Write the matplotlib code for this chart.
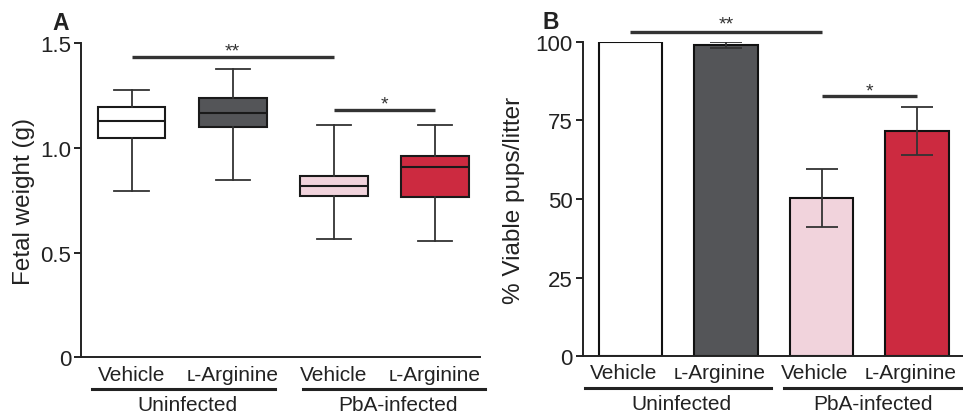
import matplotlib
matplotlib.use("Agg")
import matplotlib.pyplot as plt
from matplotlib.lines import Line2D

plt.rcParams['font.family'] = ['Liberation Sans', 'DejaVu Sans']

# ---------------- data ----------------
treatments = ["Vehicle", "ʟ-Arginine", "Vehicle", "ʟ-Arginine"]
groups = ["Uninfected", "PbA-infected"]
colors = ["#ffffff", "#545558", "#f1d3dc", "#cc2a40"]

# Panel A: fetal weight (g) box plot summaries
whis_lo = [0.796, 0.846, 0.565, 0.554]
q1 = [1.048, 1.100, 0.771, 0.763]
median = [1.130, 1.166, 0.817, 0.906]
q3 = [1.194, 1.239, 0.865, 0.962]
whis_hi = [1.274, 1.376, 1.107, 1.108]
a_ticks = [0, 0.5, 1.0, 1.5]
a_ticklabels = ["0", "0.5", "1.0", "1.5"]

# Panel B: % viable pups/litter (mean, error)
viable_mean = [100.0, 99.05, 50.3, 71.6]
viable_err = [0.0, 0.95, 9.3, 7.6]
b_ticks = [0, 25, 50, 75, 100]

# significance annotations: (from, to, level, label)
sig_a = [(1, 3, 1.433, "**"), (3, 4, 1.178, "*")]
sig_b = [(1, 3, 103.2, "**"), (3, 4, 82.8, "*")]

positions = [1, 2, 3, 4]

fig = plt.figure(figsize=(9.63, 4.14), dpi=100)
axA = fig.add_axes([81 / 963, 1 - 358.3 / 414, (480 - 81) / 963, (358.3 - 44) / 414])
axB = fig.add_axes([582.7 / 963, 1 - 357.3 / 414, (963 - 582.7) / 963, (357.3 - 42.7) / 414])

tick_fs = 16
lab_fs = 15
ylab_fs = 17.5
star_fs = 14
txt_color = "#222222"
sig_color = "#333333"

for ax in (axA, axB):
    for s in ("top", "right"):
        ax.spines[s].set_visible(False)
    for s in ("left", "bottom"):
        ax.spines[s].set_linewidth(1.4)
        ax.spines[s].set_color(txt_color)
    ax.tick_params(axis="y", direction="out", length=5, width=1.4, labelsize=tick_fs,
                   pad=2, colors=txt_color)
    ax.tick_params(axis="x", length=0, labelbottom=False)

# ---------------- Panel A ----------------
stats = []
for i in range(4):
    stats.append(dict(med=median[i], q1=q1[i], q3=q3[i], whislo=whis_lo[i], whishi=whis_hi[i]))
bp = axA.bxp(stats, positions=positions, widths=0.67, capwidths=0.34, showfliers=False,
             patch_artist=True,
             boxprops=dict(linewidth=1.5, edgecolor="#1a1a1a"),
             medianprops=dict(color="#1a1a1a", linewidth=1.5),
             whiskerprops=dict(color="#333333", linewidth=1.3),
             capprops=dict(color="#333333", linewidth=1.3))
for patch, c in zip(bp["boxes"], colors):
    patch.set_facecolor(c)

axA.set_xlim(0.5, 4.445)
axA.set_ylim(0, 1.5)
axA.set_yticks(a_ticks)
axA.set_yticklabels(a_ticklabels)
axA.set_ylabel("Fetal weight (g)", fontsize=ylab_fs, color=txt_color)
axA.yaxis.set_label_coords(-0.115, 0.5)

for (x0, x1, yv, lab), off in zip(sig_a, [0.007, 0.01]):
    axA.plot([x0, x1], [yv, yv], color=sig_color, lw=2.4, clip_on=False, solid_capstyle="butt")
    axA.text((x0 + x1) / 2, yv + off, lab, ha="center", va="baseline", fontsize=star_fs,
             color=sig_color)

# ---------------- Panel B ----------------
axB.bar(positions, viable_mean, width=0.665, color=colors, edgecolor="#111111", linewidth=1.5,
        zorder=2)
axB.errorbar(positions[1:], viable_mean[1:], yerr=viable_err[1:], fmt="none",
             ecolor="#333333", elinewidth=1.3, capsize=11.8, capthick=1.3, zorder=3)
axB.set_xlim(0.5, 4.48)
axB.set_ylim(0, 100)
axB.set_yticks(b_ticks)
axB.set_ylabel("% Viable pups/litter", fontsize=ylab_fs, color=txt_color)
axB.yaxis.set_label_coords(-0.152, 0.5)

for (x0, x1, yv, lab), off in zip(sig_b, [1.0, 0.0]):
    axB.plot([x0, x1], [yv, yv], color=sig_color, lw=2.4, clip_on=False, solid_capstyle="butt")
    axB.text((x0 + x1) / 2, yv + off, lab, ha="center", va="baseline", fontsize=star_fs,
             color=sig_color)

# ---------------- category labels ----------------
def category_labels(ax, tr_y, line_y, grp_y, tr_shift, line_spans, grp_x):
    trans = matplotlib.transforms.blended_transform_factory(ax.transData, fig.transFigure)
    for p, t in zip(positions, treatments):
        ax.text(p + tr_shift, tr_y, t, transform=trans, ha="center", va="center",
                fontsize=lab_fs, color=txt_color, clip_on=False)
    for (xa, xb), gx, g in zip(line_spans, grp_x, groups):
        ax.add_line(Line2D([xa, xb], [line_y, line_y], transform=trans, color=txt_color,
                           lw=2.2, clip_on=False))
        ax.text(gx, grp_y, g, transform=trans, ha="center", va="center",
                fontsize=lab_fs, color=txt_color, clip_on=False)

category_labels(axA, 1 - 376 / 414, 1 - 390 / 414, 1 - 406 / 414, 0.0,
                [(0.607, 2.418), (2.694, 4.49)], [1.555, 3.63])
category_labels(axB, 1 - 374 / 414, 1 - 389 / 414, 1 - 405 / 414, -0.07,
                [(0.522, 2.466), (2.604, 4.6)], [1.53, 3.54])

fig.text(52 / 963, 1 - 30 / 414, "A", fontsize=16.5, fontweight="bold", va="baseline", ha="left",
         color=txt_color)
fig.text(543 / 963, 1 - 29 / 414, "B", fontsize=16.5, fontweight="bold", va="baseline", ha="left",
         color=txt_color)

fig.savefig("out.png", dpi=100)
